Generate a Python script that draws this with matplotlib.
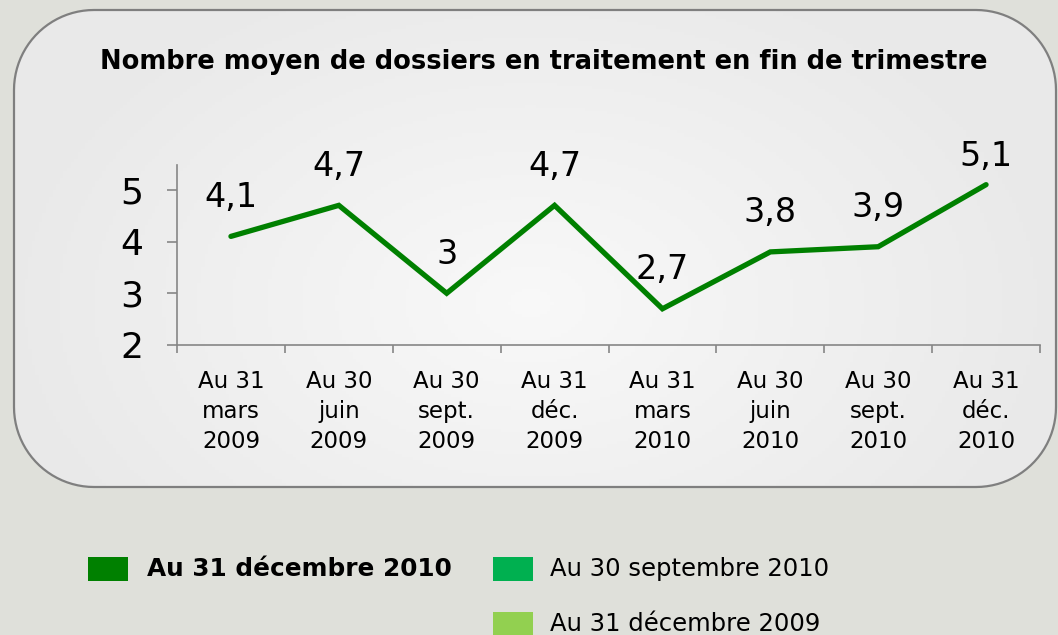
import numpy as np
import matplotlib
matplotlib.use("Agg")
import matplotlib.pyplot as plt
from matplotlib.path import Path
from matplotlib.patches import PathPatch, Rectangle

categories = ["Au 31\nmars\n2009", "Au 30\njuin\n2009", "Au 30\nsept.\n2009", "Au 31\ndéc.\n2009",
              "Au 31\nmars\n2010", "Au 30\njuin\n2010", "Au 30\nsept.\n2010", "Au 31\ndéc.\n2010"]
values = [4.1, 4.7, 3.0, 4.7, 2.7, 3.8, 3.9, 5.1]
value_labels = ["4,1", "4,7", "3", "4,7", "2,7", "3,8", "3,9", "5,1"]
title = "Nombre moyen de dossiers en traitement en fin de trimestre"
legend_labels = ["Au 31 décembre 2010", "Au 30 septembre 2010", "Au 31 décembre 2009"]
legend_colors = ["#008000", "#00b050", "#92d050"]

W, H = 1058, 635
fig = plt.figure(figsize=(W / 100, H / 100), dpi=100, facecolor="#dfe0da")


def px(x, y):
    return (x / W, 1 - y / H)


def rrect(x0, y0, x1, y1, r, n=24):
    verts = []
    corners = [(x1 - r, y0 + r, -90, 0), (x1 - r, y1 - r, 0, 90),
               (x0 + r, y1 - r, 90, 180), (x0 + r, y0 + r, 180, 270)]
    for cx, cy, a0, a1 in corners:
        for a in np.linspace(np.radians(a0), np.radians(a1), n):
            verts.append(px(cx + r * np.cos(a), cy + r * np.sin(a)))
    verts.append(verts[0])
    codes = [Path.MOVETO] + [Path.LINETO] * (len(verts) - 2) + [Path.CLOSEPOLY]
    return Path(verts, codes)


bg = fig.add_axes([0, 0, 1, 1], zorder=0)
bg.set_xlim(0, 1)
bg.set_ylim(0, 1)
bg.axis("off")
panel_path = rrect(14, 10, 1056, 487, 80)
yy, xx = np.mgrid[0:200, 0:300]
d = np.sqrt(((xx - 150) / 150.0) ** 2 + ((yy - 95) / 110.0) ** 2)
d = np.clip(d, 0, 1)
c_in = np.array([0.975, 0.975, 0.975])
c_out = np.array([0.915, 0.915, 0.915])
img = c_in[None, None, :] * (1 - d[..., None]) + c_out[None, None, :] * d[..., None]
im = bg.imshow(img, extent=[0, 1, 0, 1], aspect="auto", origin="upper", zorder=0)
patch = PathPatch(panel_path, facecolor="none", edgecolor="#7f7f7f", lw=1.6,
                  transform=bg.transAxes, zorder=2)
bg.add_patch(patch)
im.set_clip_path(patch)

# title
fig.text(544 / W, 1 - 62 / H, title, ha="center", va="center",
         fontsize=18.5, fontweight="bold", color="black")

# main axes
ax_top_px, ax_bot_px = 165, 345
ax = fig.add_axes([177 / W, 1 - ax_bot_px / H, (1040 - 177) / W, (ax_bot_px - ax_top_px) / H], zorder=3)
ax.set_facecolor("none")
ymin, ymax = 2, 5.48
x = np.arange(len(values)) + 0.5
ax.plot(x, values, color="#008000", lw=3.8, solid_joinstyle="miter", solid_capstyle="round")
label_top_limit = 157  # labels kept inside the chart area (pixels from top)
for xi, v, lab in zip(x, values, value_labels):
    p_px = ax_bot_px - (v - ymin) / (ymax - ymin) * (ax_bot_px - ax_top_px)
    off_px = min(39, p_px - label_top_limit)
    ax.annotate(lab, (xi, v), xytext=(0, off_px * 0.72), textcoords="offset points",
                ha="center", va="center", fontsize=24, color="black")

ax.set_xlim(0, len(values))
ax.set_ylim(ymin, ymax)
ax.set_yticks([2, 3, 4, 5])
ax.set_yticklabels(["2", "3", "4", "5"], fontsize=26)
ax.tick_params(axis="y", length=7, width=1.2, color="#868686", pad=17)
ax.set_xticks(np.arange(len(values) + 1))
ax.set_xticklabels([])
ax.tick_params(axis="x", which="major", length=6, width=1.2, color="#868686")
ax.set_xticks(x, minor=True)
ax.set_xticklabels(categories, minor=True, fontsize=16.5, linespacing=1.38)
ax.tick_params(axis="x", which="minor", length=0, pad=18)
for s in ["top", "right"]:
    ax.spines[s].set_visible(False)
for s in ["left", "bottom"]:
    ax.spines[s].set_color("#868686")
    ax.spines[s].set_linewidth(1.2)

# legend
leg_pos = [(88, 557, 147), (493, 557, 550), (493, 612, 550)]
for (sx, sy, tx), lab, col, bold in zip(leg_pos, legend_labels, legend_colors, [True, False, False]):
    fig.patches.append(Rectangle(px(sx, sy + 24), 40 / W, 24 / H, transform=fig.transFigure,
                                 facecolor=col, edgecolor="none", zorder=5))
    fig.text(tx / W, 1 - (sy + 12) / H, lab, ha="left", va="center",
             fontsize=17.8 if bold else 17.5, fontweight="bold" if bold else "normal")

fig.savefig("out.png", dpi=100, facecolor=fig.get_facecolor())
